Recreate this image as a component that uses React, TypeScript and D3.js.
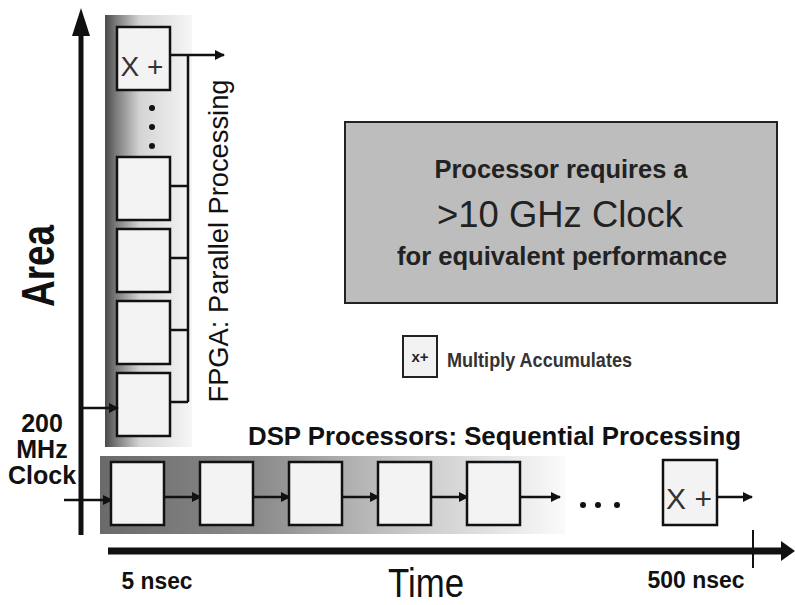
import * as d3 from "d3";

// FPGA vs DSP throughput diagram
const W = 795;
const H = 605;

const fpgaUnits = ["mac1", "mac2", "mac3", "mac4"];
const dspUnits = ["s1", "s2", "s3", "s4", "s5"];
const clockLines = ["200", "MHz", "Clock"];
const calloutLines = ["Processor requires a", ">10 GHz Clock", "for equivalent performance"];
const timeLabels = ["5 nsec", "500 nsec"];

const font = "'Liberation Sans', Arial, sans-serif";

export default function App() {
  // box tops for the parallel column, bottom to top
  const fpgaY = d3.scaleLinear().domain([0, fpgaUnits.length - 1]).range([373, 157]);
  // box lefts for the sequential row
  const dspX = d3.scaleLinear().domain([0, dspUnits.length - 1]).range([111, 467]);
  const boxW = 53;
  const fpgaH = 63;
  const dspTop = 462;
  const dspH = 63;
  const arrowY = 497;

  return (
    <svg
      width={W}
      height={H}
      style={{ position: "absolute", left: 0, top: 0, background: "#fff" }}
      fontFamily={font}
    >
      <defs>
        <marker id="ah" viewBox="0 0 10 10" refX="9" refY="5" markerWidth="4" markerHeight="4" orient="auto">
          <path d="M0,0L10,5L0,10z" fill="#111" />
        </marker>
        <linearGradient id="fpgaBg" x1="0" x2="1" y1="0" y2="0">
          <stop offset="0" stopColor="#4a4a4a" />
          <stop offset="0.13" stopColor="#7c7c7c" />
          <stop offset="0.4" stopColor="#d4d4d4" />
          <stop offset="1" stopColor="#f6f6f6" />
        </linearGradient>
        <linearGradient id="dspBg" x1="0" x2="1" y1="0" y2="0">
          <stop offset="0" stopColor="#6a6a6a" />
          <stop offset="0.35" stopColor="#8c8c8c" />
          <stop offset="0.65" stopColor="#c6c6c6" />
          <stop offset="1" stopColor="#fafafa" />
        </linearGradient>
      </defs>

      {/* Area axis */}
      <rect x={78.5} y={30} width={5} height={505} fill="#111" />
      <path d="M81,8L72,36L90,36z" fill="#111" />
      <text
        transform="translate(54,266) rotate(-90)"
        textAnchor="middle"
        fontSize={46}
        fontWeight="bold"
        textLength={82}
        lengthAdjust="spacingAndGlyphs"
        fill="#111"
      >
        Area
      </text>

      {/* Time axis */}
      <rect x={108} y={547.5} width={677} height={7} fill="#111" />
      <path d="M795,551L781,541L781,561z" fill="#111" />
      <line x1={753} x2={753} y1={530} y2={568} stroke="#111" strokeWidth={2} />
      <text x={426} y={597} textAnchor="middle" fontSize={40} textLength={76} lengthAdjust="spacingAndGlyphs" fill="#111">
        Time
      </text>
      <text x={157} y={589} textAnchor="middle" fontSize={23} fontWeight="bold" textLength={71} lengthAdjust="spacingAndGlyphs" fill="#111">
        {timeLabels[0]}
      </text>
      <text x={696} y={588} textAnchor="middle" fontSize={23} fontWeight="bold" textLength={97} lengthAdjust="spacingAndGlyphs" fill="#111">
        {timeLabels[1]}
      </text>

      {/* clock label */}
      {clockLines.map((t, i) => (
        <text key={t} x={42} y={432 + i * 26} textAnchor="middle" fontSize={25} fontWeight="bold" fill="#111">
          {t}
        </text>
      ))}

      {/* FPGA column */}
      <rect x={105} y={15} width={87} height={432} fill="url(#fpgaBg)" />
      <rect x={117} y={27} width={boxW} height={63} fill="#f3f3f3" stroke="#111" strokeWidth={2.5} />
      <text x={142} y={76} textAnchor="middle" fontSize={28} fill="#333">
        X +
      </text>
      {[108, 127, 146].map((cy) => (
        <circle key={cy} cx={152} cy={cy} r={3} fill="#111" />
      ))}
      <line x1={188} x2={188} y1={55} y2={fpgaY(0) + 29} stroke="#111" strokeWidth={2.5} />
      <line x1={170} x2={224} y1={55} y2={55} stroke="#111" strokeWidth={2.5} markerEnd="url(#ah)" />
      {fpgaUnits.map((u, i) => (
        <g key={u}>
          <rect x={117} y={fpgaY(i)} width={boxW} height={fpgaH} fill="#f3f3f3" stroke="#111" strokeWidth={2.5} />
          <line x1={170} x2={188} y1={fpgaY(i) + 29} y2={fpgaY(i) + 29} stroke="#111" strokeWidth={2.5} />
        </g>
      ))}
      <line x1={81} x2={118} y1={408} y2={408} stroke="#111" strokeWidth={2.5} markerEnd="url(#ah)" />
      <text
        transform="translate(228,241) rotate(-90)"
        textAnchor="middle"
        fontSize={28}
        textLength={323}
        lengthAdjust="spacingAndGlyphs"
        fill="#111"
      >
        FPGA: Parallel Processing
      </text>

      {/* DSP row */}
      <text x={248} y={445} fontSize={25} fontWeight="bold" textLength={493} lengthAdjust="spacingAndGlyphs" fill="#111">
        DSP Processors: Sequential Processing
      </text>
      <rect x={100} y={456} width={465} height={78} fill="url(#dspBg)" />
      <line x1={64} x2={112} y1={500} y2={500} stroke="#111" strokeWidth={2.5} markerEnd="url(#ah)" />
      {dspUnits.map((u, i) => (
        <g key={u}>
          <rect x={dspX(i)} y={dspTop} width={boxW} height={dspH} fill="#f3f3f3" stroke="#111" strokeWidth={2.5} />
          <line
            x1={dspX(i) + boxW}
            x2={i < dspUnits.length - 1 ? dspX(i + 1) + 1 : 560}
            y1={arrowY}
            y2={arrowY}
            stroke="#111"
            strokeWidth={2.5}
            markerEnd="url(#ah)"
          />
        </g>
      ))}
      {[583, 598, 617].map((cx) => (
        <circle key={cx} cx={cx} cy={505} r={3} fill="#111" />
      ))}
      <rect x={663} y={460} width={54} height={65} fill="#f3f3f3" stroke="#111" strokeWidth={2.5} />
      <text x={689} y={509} textAnchor="middle" fontSize={30} fill="#333">
        X +
      </text>
      <line x1={717} x2={752} y1={arrowY} y2={arrowY} stroke="#111" strokeWidth={2.5} markerEnd="url(#ah)" />

      {/* callout */}
      <rect x={345} y={122} width={432} height={181} fill="#bdbdbd" stroke="#222" strokeWidth={2} />
      <text x={561} y={178} textAnchor="middle" fontSize={26} fontWeight="bold" textLength={253} lengthAdjust="spacingAndGlyphs" fill="#222">
        {calloutLines[0]}
      </text>
      <text x={560} y={227} textAnchor="middle" fontSize={36} textLength={246} lengthAdjust="spacingAndGlyphs" fill="#222">
        {calloutLines[1]}
      </text>
      <text x={562} y={265} textAnchor="middle" fontSize={26} fontWeight="bold" textLength={330} lengthAdjust="spacingAndGlyphs" fill="#222">
        {calloutLines[2]}
      </text>

      {/* legend */}
      <rect x={403} y={336} width={34} height={41} fill="#f2f2f2" stroke="#222" strokeWidth={2} />
      <text x={420} y={362} textAnchor="middle" fontSize={15} fontWeight="bold" fill="#222">
        x+
      </text>
      <text x={447} y={367} fontSize={20} fontWeight="bold" textLength={185} lengthAdjust="spacingAndGlyphs" fill="#333">
        Multiply Accumulates
      </text>
    </svg>
  );
}
